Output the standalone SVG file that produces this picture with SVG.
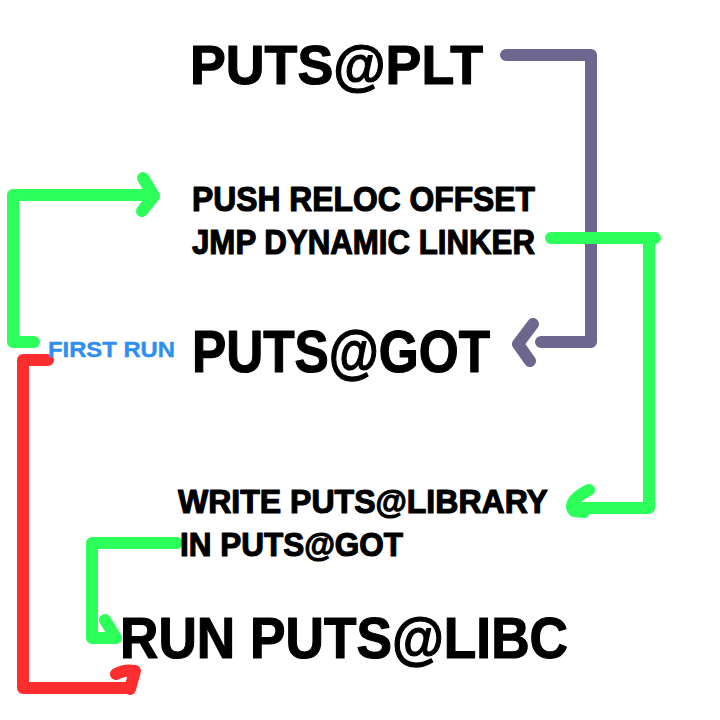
<svg xmlns="http://www.w3.org/2000/svg" width="720" height="720" viewBox="0 0 720 720">
<style>
.t{font-family:"Liberation Sans","DejaVu Sans",Arial,sans-serif;font-weight:bold;fill:#000;stroke:#000;stroke-width:1.2;stroke-linejoin:round}
.c{fill:none;stroke-width:12;stroke-linecap:round;stroke-linejoin:round}
.p{stroke:#6d678f}
.g{stroke:#2cff5a}
.r{stroke:#ff2e2e}
</style>
<rect width="720" height="720" fill="#fff"/>
<g id="connectors">
<path class="c p" d="M506,55 H591 V342 H541"/>
<path class="c p" d="M533,324 L518,344 L530,361"/>
<path class="c g" d="M34,342 H13 V195 H151"/>
<path class="c g" d="M143,178 L154,196 L142,211"/>
<path class="c g" d="M551,238 H655 M649,238 V508 H582"/>
<path class="c g" d="M589,490 C576,496 568,505 574,511 L584,512"/>
<path class="c g" d="M177,543 H92 V638 H114"/>
<path class="c g" d="M105,620 L116,638"/>
<path class="c r" d="M48,360 H23 V688 H130"/>
<path class="c r" d="M116,674 Q125,669 135,671 L130,689"/>
</g>
<g id="node-plt"><text class="t" x="190" y="84" font-size="56" textLength="293" lengthAdjust="spacingAndGlyphs">PUTS@PLT</text></g>
<g id="node-push"><text class="t" x="192" y="211" font-size="35" textLength="343" lengthAdjust="spacingAndGlyphs">PUSH RELOC OFFSET</text>
<text class="t" x="192" y="254" font-size="35" textLength="343" lengthAdjust="spacingAndGlyphs">JMP DYNAMIC LINKER</text></g>
<g id="node-firstrun"><text x="48" y="357" font-family="Liberation Sans, DejaVu Sans, sans-serif" font-weight="bold" font-size="22" fill="#2f8ff0" stroke="#2f8ff0" stroke-width="0.4" textLength="127" lengthAdjust="spacingAndGlyphs">FIRST RUN</text></g>
<g id="node-got"><text class="t" x="192" y="372" font-size="60" textLength="298" lengthAdjust="spacingAndGlyphs">PUTS@GOT</text></g>
<g id="node-write"><text class="t" x="178" y="513" font-size="34" textLength="370" lengthAdjust="spacingAndGlyphs">WRITE PUTS@LIBRARY</text>
<text class="t" x="180" y="556" font-size="34" textLength="223" lengthAdjust="spacingAndGlyphs">IN PUTS@GOT</text></g>
<g id="node-libc"><text class="t" x="120" y="658" font-size="58" textLength="448" lengthAdjust="spacingAndGlyphs">RUN PUTS@LIBC</text></g>
</svg>
